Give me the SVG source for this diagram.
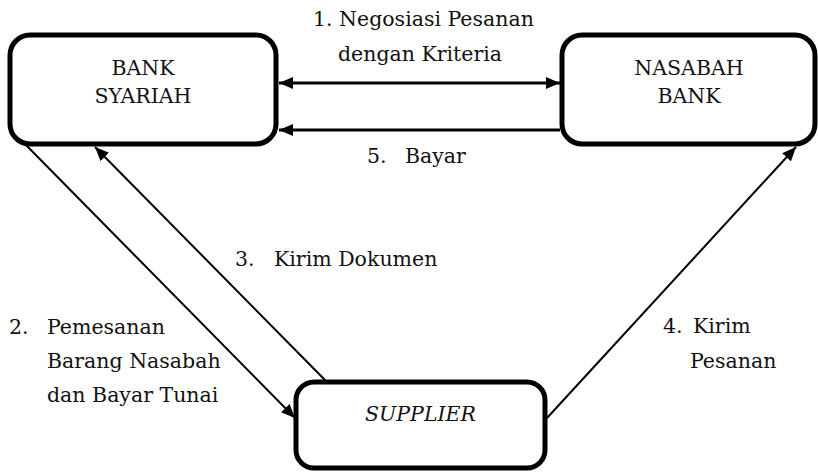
<svg xmlns="http://www.w3.org/2000/svg" width="818" height="472" viewBox="0 0 818 472">
<style>
.box{fill:#fff;stroke:#000;stroke-width:5}
.t{font-family:"DejaVu Serif","Liberation Serif",serif;font-size:20.5px;fill:#111}
.c{text-anchor:middle}
.it{font-style:italic}
.h{stroke:#000;stroke-width:3;fill:none}
.d{stroke:#000;stroke-width:2;fill:none}
</style>
<defs>
<marker id="ah" viewBox="0 0 14 12" refX="14" refY="6" markerWidth="14" markerHeight="12" markerUnits="userSpaceOnUse" orient="auto-start-reverse">
<path d="M0,0 L14,6 L0,12 Z" fill="#000"/>
</marker>
</defs>
<g id="connectors">
<line class="h" x1="279" y1="83" x2="560" y2="83" marker-start="url(#ah)" marker-end="url(#ah)"/>
<line class="h" x1="560" y1="130" x2="279" y2="130" marker-end="url(#ah)"/>
<line class="d" x1="24" y1="143" x2="295" y2="418" marker-end="url(#ah)"/>
<line class="d" x1="325" y1="380" x2="95" y2="147" marker-end="url(#ah)"/>
<line class="d" x1="547" y1="418" x2="796" y2="147" marker-end="url(#ah)"/>
</g>
<g id="bank-syariah">
<rect class="box" x="10" y="35" width="266" height="109" rx="20"/>
<text class="t c" x="143" y="75">BANK</text>
<text class="t c" x="143" y="103">SYARIAH</text>
</g>
<g id="nasabah-bank">
<rect class="box" x="562" y="35" width="253" height="109" rx="20"/>
<text class="t c" x="689" y="75">NASABAH</text>
<text class="t c" x="689" y="103">BANK</text>
</g>
<g id="supplier">
<rect class="box" x="296" y="382" width="249" height="86" rx="18"/>
<text class="t c it" x="420.5" y="421">SUPPLIER</text>
</g>
<g id="labels">
<text class="t" x="313" y="26">1. Negosiasi Pesanan</text>
<text class="t c" x="420" y="61">dengan Kriteria</text>
<text class="t" x="367" y="163">5.</text>
<text class="t" x="405" y="163">Bayar</text>
<text class="t" x="235" y="266">3.</text>
<text class="t" x="274" y="266">Kirim Dokumen</text>
<text class="t" x="9" y="334">2.</text>
<text class="t" x="47" y="334">Pemesanan</text>
<text class="t" x="47" y="368">Barang Nasabah</text>
<text class="t" x="47" y="402">dan Bayar Tunai</text>
<text class="t" x="663" y="333">4.</text>
<text class="t" x="693" y="333">Kirim</text>
<text class="t" x="690" y="368">Pesanan</text>
</g>
</svg>
